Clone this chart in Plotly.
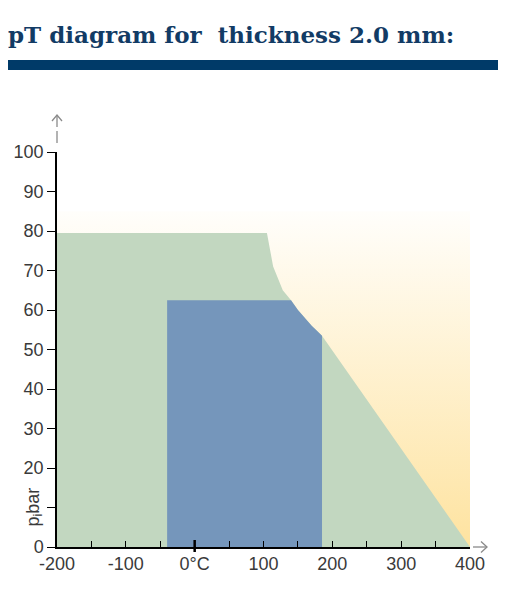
import plotly.graph_objects as go

# temperature (°C) / pressure (bar) outlines
area_t = [-200, -200, 400, 400]
area_p = [0, 85, 85, 0]

outer_t = [-200, -200, 105, 114, 128, 140, 150, 170, 185, 400]
outer_p = [0, 79.5, 79.5, 71, 65, 62.5, 60, 56, 53.5, 0]

inner_t = [-40, -40, 140, 150, 170, 185, 185]
inner_p = [0, 62.5, 62.5, 60, 56, 53.5, 0]

x_ticks = [-200, -100, 0, 100, 200, 300, 400]
x_labels = ["-200", "-100", "0°C", "100", "200", "300", "400"]
y_ticks = [0, 20, 30, 40, 50, 60, 70, 80, 90, 100]
y_labels = ["0", "20", "30", "40", "50", "60", "70", "80", "90", "100"]

# page has an 8px body margin, so the figure is 8px smaller than the window
OFF = 8
W, H = 506 - OFF, 591 - OFF
L, T = 57 - OFF, 152 - OFF
R, B = W - (470 - OFF), H - (547 - OFF)
pw, ph = W - L - R, H - T - B


def px_x(x):  # window pixel -> paper x
    return (x - OFF - L) / pw


def px_y(y):  # window pixel -> paper y
    return 1 + (T - (y - OFF)) / ph


def px_path(points):
    return "M " + " L ".join(f"{px_x(a):.4f},{px_y(b):.4f}" for a, b in points)


fig = go.Figure()

fig.add_trace(go.Scatter(
    x=area_t, y=area_p, fill="toself", mode="lines", line=dict(width=0),
    fillgradient=dict(type="vertical",
                      colorscale=[[0, "#fee3a0"], [1, "#fffefb"]]),
    hoverinfo="skip", showlegend=False))

fig.add_trace(go.Scatter(
    x=outer_t, y=outer_p, fill="toself", mode="lines", line=dict(width=0),
    fillcolor="#c2d7c0", hoverinfo="skip", showlegend=False))

fig.add_trace(go.Scatter(
    x=inner_t, y=inner_p, fill="toself", mode="lines", line=dict(width=0),
    fillcolor="#7596bb", hoverinfo="skip", showlegend=False))

axis_font = dict(family="Liberation Sans", size=18, color="#3a3a3a")

fig.update_xaxes(range=[-200, 400], tickvals=x_ticks, ticktext=x_labels,
                 ticks="inside", ticklen=6, tickcolor="black",
                 minor=dict(dtick=50, tick0=-200, ticks="inside", ticklen=6,
                            tickcolor="black", showgrid=False),
                 showline=True, linecolor="black", linewidth=1.5,
                 showgrid=False, zeroline=False, tickfont=axis_font,
                 automargin=False)
fig.update_yaxes(range=[0, 100], tickvals=y_ticks, ticktext=y_labels,
                 ticks="outside", ticklen=8, tickcolor="black",
                 minor=dict(dtick=10, tick0=0, ticks="outside", ticklen=8,
                            tickcolor="black", showgrid=False),
                 showline=True, linecolor="black", linewidth=1.5,
                 showgrid=False, zeroline=False, tickfont=axis_font,
                 automargin=False)

grey = dict(color="#8a8a8a", width=1.3)

# title bar
fig.add_shape(type="rect", xref="paper", yref="paper",
              x0=px_x(8), x1=px_x(506), y0=px_y(70), y1=px_y(60),
              fillcolor="#003a68", line=dict(width=0))
# grey extension and arrow above the y axis
fig.add_shape(type="line", xref="paper", yref="paper",
              x0=0, x1=0, y0=px_y(143), y1=px_y(131), line=grey)
fig.add_shape(type="path", xref="paper", yref="paper", line=grey,
              path=px_path([(57, 127), (57, 115)]))
fig.add_shape(type="path", xref="paper", yref="paper", line=grey,
              path=px_path([(52, 121), (57, 115), (62, 121)]))
# arrow after the x axis
fig.add_shape(type="path", xref="paper", yref="paper", line=grey,
              path=px_path([(473, 547), (487, 547)]))
fig.add_shape(type="path", xref="paper", yref="paper", line=grey,
              path=px_path([(481, 541.5), (487, 547), (481, 552.5)]))
# heavier tick at 0°C
fig.add_shape(type="line", xref="x", yref="paper",
              x0=0, x1=0, y0=px_y(552), y1=px_y(540),
              line=dict(color="black", width=2.5))

fig.add_annotation(text="p<sub>i</sub>bar", xref="paper", yref="y",
                   x=px_x(34), y=10, textangle=-90, showarrow=False,
                   xanchor="center", yanchor="middle",
                   font=dict(family="Liberation Sans", size=18, color="#3a3a3a"))

fig.update_layout(
    width=W, height=H,
    margin=dict(l=L, r=R, t=T, b=B),
    paper_bgcolor="white", plot_bgcolor="white",
    title=dict(text="pT diagram for\u00a0\u00a0thickness 2.0 mm:",
               x=0, xanchor="left", y=1 - (35 - OFF) / H, yanchor="middle",
               font=dict(family="DejaVu Serif", size=23, color="#123b65",
                         weight="bold")),
)

fig.write_html("out.html")
